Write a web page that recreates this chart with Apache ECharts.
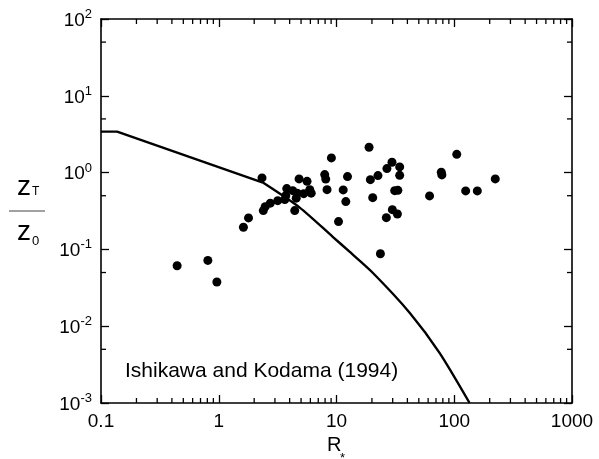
<!DOCTYPE html>
<html>
<head>
<meta charset="utf-8">
<script src="https://cdn.jsdelivr.net/npm/echarts@6/dist/echarts.min.js"></script>
<style>
html, body { margin: 0; padding: 0; background: #fff; }
#main { width: 599px; height: 459px; }
</style>
</head>
<body>
<div id="main"></div>
<script>
// observed points (R*, zT/z0)
var obsR = [0.443, 0.808, 0.964, 1.62, 1.79, 2.33, 2.39, 2.48, 2.74, 3.17,
            3.64, 3.71, 3.78, 4.25, 4.64, 4.55, 4.42, 4.81, 5.27, 5.62,
            5.93, 6.10, 7.94, 8.10, 8.31, 9.05, 10.4, 11.4, 12.0, 12.4,
            18.9, 19.4, 20.3, 22.5, 23.6, 26.5, 26.8, 29.6, 29.8, 32.9,
            31.2, 33.2, 34.4, 34.4, 61.7, 77.6, 78.5, 105, 125, 157, 223];
var obsZ = [0.0612, 0.0719, 0.0376, 0.194, 0.257, 0.853, 0.320, 0.360, 0.400, 0.431,
            0.445, 0.501, 0.619, 0.582, 0.540, 0.465, 0.320, 0.828, 0.532, 0.770,
            0.600, 0.540, 0.942, 0.823, 0.600, 1.555, 0.230, 0.595, 0.419, 0.887,
            2.14, 0.810, 0.472, 0.914, 0.0879, 0.259, 1.128, 1.362, 0.329, 0.289,
            0.582, 0.588, 1.187, 0.922, 0.497, 1.01, 0.933, 1.73, 0.577, 0.577, 0.828];

// model curve: straight part up to the kink, then the bending part
var curveR = [0.1, 0.137, 2.37];
var curveZ = [3.42, 3.42, 0.741];
var bendR = [2.37, 4.87, 9.29, 12.9, 20.3, 41.8, 75.0, 135];
var bendZ = [0.741, 0.350, 0.146, 0.0933, 0.0497, 0.0150, 0.0045, 0.001];

// minor tick positions
var xMinor = [0.2, 0.3, 0.4, 0.5, 0.6, 0.7, 0.8, 0.9,
              2, 3, 4, 5, 6, 7, 8, 9,
              20, 30, 40, 50, 60, 70, 80, 90,
              200, 300, 400, 500, 600, 700, 800, 900];
var yMinor = [0.005, 0.05, 0.5, 5, 50];

var xMin = 0.1, xMax = 1000, yMin = 0.001, yMax = 100;
var font = 'Liberation Sans, Arial, sans-serif';

var myChart = echarts.init(document.getElementById('main'));

function supLabel(v) {
    var e = Math.round(Math.log(v) / Math.LN10);
    return '{b|10}{s|' + e + '}';
}

function pairs(a, b) {
    return a.map(function (v, i) { return [v, b[i]]; });
}

function xTickItem(params, api) {
    var v = api.value(0);
    var b = api.coord([v, yMin]);
    var t = api.coord([v, yMax]);
    var st = { stroke: '#000', lineWidth: 1.3 };
    return {
        type: 'group',
        children: [
            { type: 'line', shape: { x1: b[0], y1: b[1], x2: b[0], y2: b[1] - 5 }, style: st },
            { type: 'line', shape: { x1: t[0], y1: t[1], x2: t[0], y2: t[1] + 5 }, style: st }
        ]
    };
}

function yTickItem(params, api) {
    var v = api.value(1);
    var l = api.coord([xMin, v]);
    var r = api.coord([xMax, v]);
    var st = { stroke: '#000', lineWidth: 1.3 };
    return {
        type: 'group',
        children: [
            { type: 'line', shape: { x1: l[0], y1: l[1], x2: l[0] + 5, y2: l[1] }, style: st },
            { type: 'line', shape: { x1: r[0], y1: r[1], x2: r[0] - 5, y2: r[1] }, style: st }
        ]
    };
}

var axisLine = { lineStyle: { color: '#000', width: 1.6 } };
var majorTick = { inside: true, length: 8, lineStyle: { color: '#000', width: 1.3 } };

var option = {
    animation: false,
    backgroundColor: '#fff',
    grid: { left: 101, right: 27, top: 19, bottom: 56 },
    xAxis: [{
        type: 'log', logBase: 10, min: xMin, max: xMax,
        axisLine: axisLine, axisTick: majorTick, splitLine: { show: false },
        axisLabel: {
            color: '#000', fontSize: 19, fontFamily: font, margin: 9,
            formatter: function (v) { return String(v); }
        }
    }, {
        type: 'log', logBase: 10, min: xMin, max: xMax, position: 'top',
        axisLine: axisLine, axisTick: majorTick, splitLine: { show: false },
        axisLabel: { show: false }
    }],
    yAxis: [{
        type: 'log', logBase: 10, min: yMin, max: yMax,
        axisLine: axisLine, axisTick: majorTick, splitLine: { show: false },
        axisLabel: {
            color: '#000', fontFamily: font, margin: 9,
            formatter: supLabel,
            rich: {
                b: { fontSize: 19, fontFamily: font, color: '#000', lineHeight: 22, verticalAlign: 'bottom' },
                s: { fontSize: 13, fontFamily: font, color: '#000', lineHeight: 13, verticalAlign: 'top' }
            }
        }
    }, {
        type: 'log', logBase: 10, min: yMin, max: yMax, position: 'right',
        axisLine: axisLine, axisTick: majorTick, splitLine: { show: false },
        axisLabel: { show: false }
    }],
    series: [{
        type: 'line',
        data: pairs(curveR, curveZ),
        symbol: 'none',
        lineStyle: { color: '#000', width: 2.4 },
        z: 3
    }, {
        type: 'line',
        data: pairs(bendR, bendZ),
        symbol: 'none',
        smooth: 0.25,
        lineStyle: { color: '#000', width: 2.4 },
        z: 3
    }, {
        type: 'scatter',
        data: pairs(obsR, obsZ),
        symbolSize: 9,
        itemStyle: { color: '#000', opacity: 1 },
        z: 4
    }, {
        type: 'custom',
        silent: true,
        data: xMinor.map(function (v) { return [v, 1]; }),
        renderItem: xTickItem,
        z: 5
    }, {
        type: 'custom',
        silent: true,
        data: yMinor.map(function (v) { return [1, v]; }),
        renderItem: yTickItem,
        z: 5
    }],
    graphic: [
        { type: 'text', left: 125, top: 361, style: { text: 'Ishikawa and Kodama (1994)', font: '21px ' + font, fill: '#000' } },
        { type: 'text', x: 17, y: 187, style: { text: 'z', font: '28px ' + font, fill: '#000', verticalAlign: 'middle' } },
        { type: 'text', x: 32, y: 192, style: { text: 'T', font: '12px ' + font, fill: '#000', verticalAlign: 'middle' } },
        { type: 'line', shape: { x1: 9, y1: 211, x2: 45, y2: 211 }, style: { stroke: '#444', lineWidth: 1.2 } },
        { type: 'text', x: 17, y: 232, style: { text: 'z', font: '28px ' + font, fill: '#000', verticalAlign: 'middle' } },
        { type: 'text', x: 32, y: 241, style: { text: '0', font: '13px ' + font, fill: '#000', verticalAlign: 'middle' } },
        { type: 'text', x: 327, y: 445, style: { text: 'R', font: '20px ' + font, fill: '#000', verticalAlign: 'middle' } },
        { type: 'text', x: 340, y: 458, style: { text: '*', font: '13px ' + font, fill: '#000', verticalAlign: 'middle' } }
    ]
};

myChart.setOption(option);
</script>
</body>
</html>
